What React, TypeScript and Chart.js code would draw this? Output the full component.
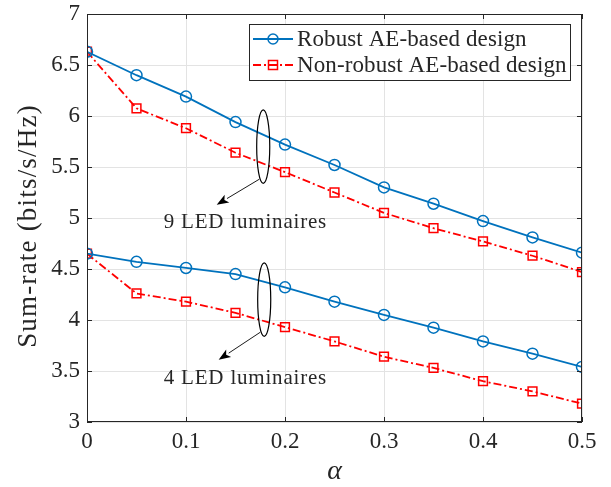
import React, { useEffect, useRef } from "react";
import { Chart, registerables } from "chart.js";

Chart.register(...registerables);

const alpha = [0, 0.05, 0.1, 0.15, 0.2, 0.25, 0.3, 0.35, 0.4, 0.45, 0.5];
const robust9 = [6.63, 6.4, 6.19, 5.94, 5.72, 5.52, 5.3, 5.14, 4.97, 4.81, 4.66];
const nonRobust9 = [6.63, 6.075, 5.88, 5.64, 5.45, 5.25, 5.05, 4.9, 4.77, 4.63, 4.47];
const robust4 = [4.65, 4.57, 4.51, 4.45, 4.32, 4.18, 4.05, 3.925, 3.79, 3.67, 3.54];
const nonRobust4 = [4.65, 4.26, 4.18, 4.07, 3.93, 3.79, 3.64, 3.53, 3.4, 3.3, 3.18];

const seriesLabels = ["Robust AE-based design", "Non-robust AE-based design"];
const xTitle = "α";
const yTitle = "Sum-rate (bits/s/Hz)";

// annotations in data coordinates: [alpha, value]
const groupLabels = ["9 LED luminaires", "4 LED luminaires"];
const ellipseCenters = [[0.178, 5.70], [0.179, 4.20]];
const ellipseRadii = [0.0066, 0.36];
const arrowStarts = [[0.174, 5.38], [0.175, 3.88]];
const arrowEnds = [[0.131, 5.13], [0.133, 3.61]];
const labelCenters = [[0.16, 4.96], [0.16, 3.43]];

const BLUE = "#0072BD";
const RED = "#FF0000";
const AXIS = "#262626";
const FONT = "'Liberation Serif', 'DejaVu Serif', serif";
const RED_DASH = [8, 3, 2, 3];

const toPts = (ys: number[]) => ys.map((y, i) => ({ x: alpha[i], y }));

const overlay = {
  id: "overlay",
  afterDraw(chart: any) {
    const { ctx, chartArea: a, scales } = chart;
    const xs = scales.x;
    const ys = scales.y;
    ctx.save();
    // frame
    ctx.strokeStyle = AXIS;
    ctx.lineWidth = 1;
    ctx.strokeRect(a.left + 0.5, a.top + 0.5, a.right - a.left - 1, a.bottom - a.top - 1);
    // inward ticks
    const tl = 5;
    ctx.beginPath();
    xs.ticks.forEach((t: any) => {
      const px = Math.round(xs.getPixelForValue(t.value)) + 0.5;
      ctx.moveTo(px, a.bottom);
      ctx.lineTo(px, a.bottom - tl);
      ctx.moveTo(px, a.top);
      ctx.lineTo(px, a.top + tl);
    });
    ys.ticks.forEach((t: any) => {
      const py = Math.round(ys.getPixelForValue(t.value)) + 0.5;
      ctx.moveTo(a.left, py);
      ctx.lineTo(a.left + tl, py);
      ctx.moveTo(a.right, py);
      ctx.lineTo(a.right - tl, py);
    });
    ctx.stroke();

    // axis titles
    ctx.fillStyle = AXIS;
    ctx.textAlign = "center";
    ctx.textBaseline = "middle";
    ctx.font = `italic 28px ${FONT}`;
    ctx.fillText(xTitle, (a.left + a.right) / 2, 472);
    ctx.save();
    ctx.translate(29, 226);
    ctx.rotate(-Math.PI / 2);
    ctx.font = `27px ${FONT}`;
    (ctx as any).letterSpacing = "1.2px";
    ctx.fillText(yTitle, 0, 0);
    ctx.restore();

    // annotations
    ctx.strokeStyle = "#000";
    ctx.fillStyle = "#000";
    for (let i = 0; i < groupLabels.length; i++) {
      const cx = xs.getPixelForValue(ellipseCenters[i][0]);
      const cy = ys.getPixelForValue(ellipseCenters[i][1]);
      const rx = Math.abs(xs.getPixelForValue(ellipseCenters[i][0] + ellipseRadii[0]) - cx);
      const ry = Math.abs(ys.getPixelForValue(ellipseCenters[i][1] + ellipseRadii[1]) - cy);
      ctx.lineWidth = 1.2;
      ctx.beginPath();
      ctx.ellipse(cx, cy, rx, ry, 0, 0, Math.PI * 2);
      ctx.stroke();

      const sx = xs.getPixelForValue(arrowStarts[i][0]);
      const sy = ys.getPixelForValue(arrowStarts[i][1]);
      const ex = xs.getPixelForValue(arrowEnds[i][0]);
      const ey = ys.getPixelForValue(arrowEnds[i][1]);
      const ang = Math.atan2(ey - sy, ex - sx);
      const hl = 12;
      const hw = 4.5;
      const bx = ex - hl * Math.cos(ang);
      const by = ey - hl * Math.sin(ang);
      ctx.lineWidth = 0.9;
      ctx.beginPath();
      ctx.moveTo(sx, sy);
      ctx.lineTo(bx, by);
      ctx.stroke();
      ctx.beginPath();
      ctx.moveTo(ex, ey);
      ctx.lineTo(bx + hw * Math.sin(ang), by - hw * Math.cos(ang));
      ctx.lineTo(ex - (hl - 3) * Math.cos(ang), ey - (hl - 3) * Math.sin(ang));
      ctx.lineTo(bx - hw * Math.sin(ang), by + hw * Math.cos(ang));
      ctx.closePath();
      ctx.fill();

      ctx.fillStyle = AXIS;
      ctx.font = `21px ${FONT}`;
      (ctx as any).letterSpacing = "0.8px";
      ctx.textAlign = "center";
      ctx.textBaseline = "middle";
      ctx.fillText(
        groupLabels[i],
        xs.getPixelForValue(labelCenters[i][0]),
        ys.getPixelForValue(labelCenters[i][1])
      );
      (ctx as any).letterSpacing = "0px";
      ctx.fillStyle = "#000";
    }

    // legend
    const lx = 249, ly = 24, lw = 321, lh = 56;
    ctx.fillStyle = "#fff";
    ctx.fillRect(lx, ly, lw, lh);
    ctx.strokeStyle = AXIS;
    ctx.lineWidth = 1;
    ctx.strokeRect(lx + 0.5, ly + 0.5, lw, lh);
    const rows = [39, 65];
    const colors = [BLUE, RED];
    for (let i = 0; i < 2; i++) {
      const y = rows[i];
      ctx.strokeStyle = colors[i];
      ctx.lineWidth = 1.8;
      ctx.setLineDash(i === 1 ? RED_DASH : []);
      ctx.beginPath();
      ctx.moveTo(253, y);
      ctx.lineTo(293, y);
      ctx.stroke();
      ctx.setLineDash([]);
      ctx.lineWidth = 1.5;
      ctx.beginPath();
      if (i === 0) ctx.arc(273, y, 5, 0, Math.PI * 2);
      else ctx.rect(268.5, y - 4.5, 9, 9);
      ctx.stroke();
      ctx.fillStyle = AXIS;
      ctx.font = `23px ${FONT}`;
      (ctx as any).letterSpacing = "0.1px";
      ctx.textAlign = "left";
      ctx.textBaseline = "middle";
      ctx.fillText(seriesLabels[i], 297, y + 1);
      (ctx as any).letterSpacing = "0px";
    }
    ctx.restore();
  },
};

export default function App() {
  const ref = useRef<HTMLCanvasElement | null>(null);
  useEffect(() => {
    if (!ref.current) return;
    const mk = (label: string, data: number[], color: string, robust: boolean) => ({
      label,
      data: toPts(data),
      borderColor: color,
      backgroundColor: "transparent",
      borderWidth: 1.8,
      borderDash: robust ? [] : RED_DASH,
      pointStyle: robust ? "circle" : "rect",
      pointRadius: robust ? 5.5 : 6.2,
      pointBorderWidth: 1.5,
      pointBorderColor: color,
      pointBackgroundColor: "transparent",
      tension: 0,
      fill: false,
    });
    const chart = new Chart(ref.current, {
      type: "line",
      data: {
        datasets: [
          mk(seriesLabels[0], robust9, BLUE, true),
          mk(seriesLabels[1], nonRobust9, RED, false),
          mk(seriesLabels[0], robust4, BLUE, true),
          mk(seriesLabels[1], nonRobust4, RED, false),
        ],
      },
      options: {
        animation: false,
        responsive: false,
        devicePixelRatio: 1,
        layout: { padding: { top: 14, right: 29, left: 0, bottom: 0 } },
        plugins: { legend: { display: false }, tooltip: { enabled: false } },
        scales: {
          x: {
            type: "linear",
            min: 0,
            max: 0.5,
            afterFit: (s: any) => {
              s.height = 65;
              s.paddingLeft = 0;
              s.paddingRight = 0;
            },
            ticks: {
              stepSize: 0.1,
              padding: 6,
              color: AXIS,
              font: { family: FONT, size: 23 },
              maxRotation: 0,
              callback: (v: any) => String(Math.round(Number(v) * 10) / 10),
            },
            grid: { color: "#e3e3e3", drawTicks: false },
            border: { display: false },
          },
          y: {
            min: 3,
            max: 7,
            afterFit: (s: any) => {
              s.width = 87;
              s.paddingTop = 0;
              s.paddingBottom = 0;
            },
            ticks: {
              stepSize: 0.5,
              padding: 7,
              color: AXIS,
              font: { family: FONT, size: 23 },
              callback: (v: any) => String(v),
            },
            grid: { color: "#e3e3e3", drawTicks: false },
            border: { display: false },
          },
        },
      },
      plugins: [overlay],
    } as any);
    return () => chart.destroy();
  }, []);
  return (
    <div style={{ position: "fixed", left: 0, top: 0, width: 611, height: 487, background: "#fff" }}>
      <canvas ref={ref} width={611} height={487} style={{ width: 611, height: 487 }} />
    </div>
  );
}
